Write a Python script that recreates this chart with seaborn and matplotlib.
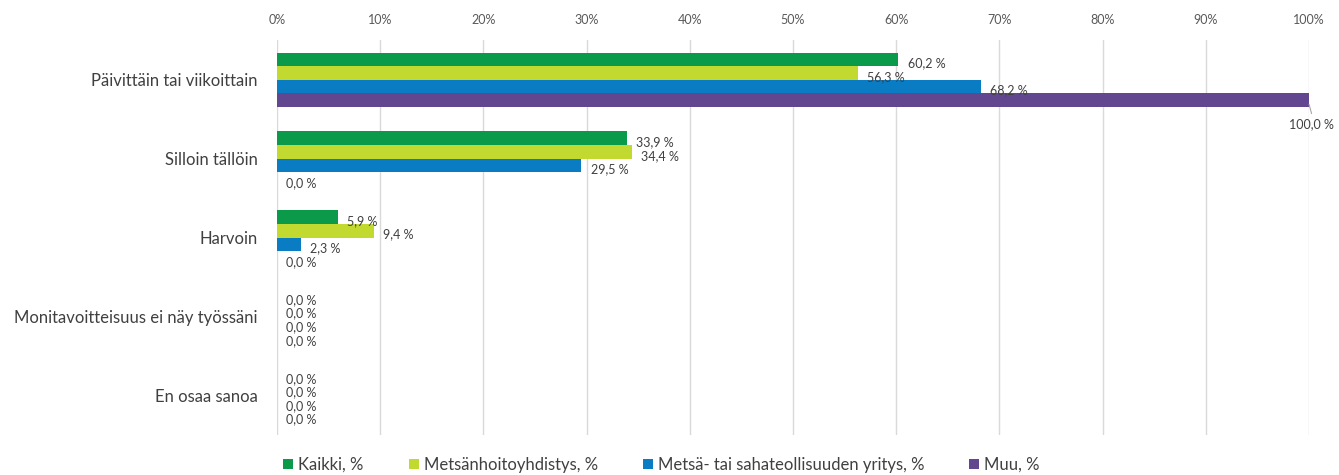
import matplotlib
matplotlib.use("Agg")
import matplotlib.pyplot as plt
import seaborn as sns
import pandas as pd
import numpy as np

categories = ["Päivittäin tai viikoittain", "Silloin tällöin", "Harvoin",
              "Monitavoitteisuus ei näy työssäni", "En osaa sanoa"]
series = ["Kaikki, %", "Metsänhoitoyhdistys, %",
          "Metsä- tai sahateollisuuden yritys, %", "Muu, %"]
kaikki = [60.2, 33.9, 5.9, 0.0, 0.0]
mhy = [56.3, 34.4, 9.4, 0.0, 0.0]
yritys = [68.2, 29.5, 2.3, 0.0, 0.0]
muu = [100.0, 0.0, 0.0, 0.0, 0.0]
colors = ["#0b9a4a", "#c2d92f", "#0a7cc4", "#62468f"]
ticks = list(range(0, 101, 10))

rows = []
for s, vals in zip(series, [kaikki, mhy, yritys, muu]):
    for c, v in zip(categories, vals):
        rows.append({"cat": c, "series": s, "value": v})
df = pd.DataFrame(rows)

sns.set_style("white")
plt.rcParams['font.family'] = ['Lato', 'DejaVu Sans']

fig = plt.figure(figsize=(13.39, 4.75), dpi=100)
ax = fig.add_axes([0.2069, 0.085, 0.7707, 0.83])

sns.barplot(data=df, y="cat", x="value", hue="series", orient="h",
            palette=colors, width=0.69, ax=ax, saturation=1, linewidth=0,
            order=categories, hue_order=series, legend=True)

ax.set_xlim(0, 100)
ax.set_ylim(4.5, -0.5)
ax.xaxis.tick_top()
ax.set_xticks(ticks)
ax.set_xticklabels([f"{t}%" for t in ticks], fontsize=9, color="#595959")
ax.tick_params(axis="x", length=0, pad=10)
ax.tick_params(axis="y", length=0, labelsize=12, colors="#404040", pad=14)
ax.grid(axis="x", color="#d9d9d9", linewidth=1)
ax.set_axisbelow(True)
for sp in ax.spines.values():
    sp.set_visible(False)
ax.set_xlabel("")
ax.set_ylabel("")

# value labels, Excel style (100 % one goes below the bar with a leader line)
for cont in ax.containers:
    for p in cont.patches:
        v = p.get_width()
        yc = p.get_y() + p.get_height() / 2
        lab = f"{v:.1f} %".replace(".", ",")
        if v >= 99.9:
            ax.plot([v, v + 0.25], [yc + 0.05, yc + 0.17], color="#a6a6a6", lw=0.8,
                    clip_on=False)
            ax.text(v + 0.2, yc + 0.3, lab, ha="center", va="center",
                    fontsize=9, color="#404040", clip_on=False)
        else:
            ax.text(v + 0.9, yc + 0.05, lab, ha="left", va="center",
                    fontsize=9, color="#404040")

handles, labels = ax.get_legend_handles_labels()
ax.get_legend().remove()
fig.legend(handles, labels, loc="center", bbox_to_anchor=(0.494, 0.021),
           ncol=4, frameon=False, fontsize=12, handlelength=0.6, handleheight=0.6,
           handletextpad=0.3, columnspacing=2.7, labelcolor="#404040")

fig.savefig("out.png", dpi=100)
